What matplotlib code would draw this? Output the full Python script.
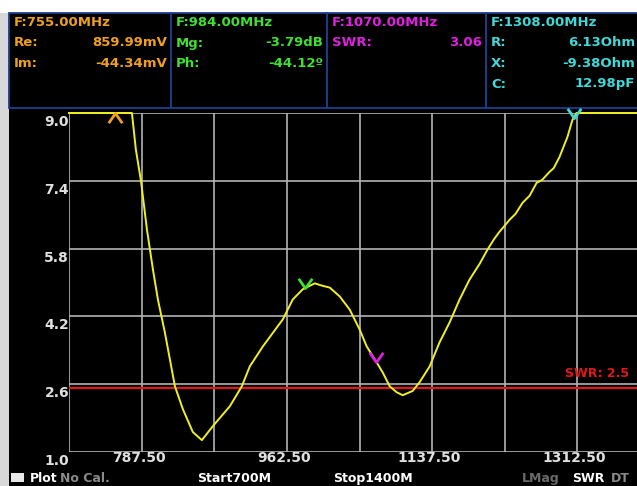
import numpy as np
import matplotlib
matplotlib.use('Agg')
import matplotlib.pyplot as plt
from matplotlib.path import Path
from matplotlib.patches import Rectangle

# sweep 700 - 1400 MHz, SWR trace (clamped at the top of the scale, 9.0)
freq = [700.0, 775.8, 780.6, 786.7, 793.9, 801.1, 807.1, 815.5, 827.6, 837.2,
        849.2, 860.1, 873.3, 893.8, 908.2, 917.8, 933.5, 957.6, 969.6, 981.6,
        996.1, 1004.0, 1014.1, 1026.2, 1038.2, 1050.2, 1058.7, 1068.3, 1077.9,
        1086.4, 1094.8, 1102.0, 1114.0, 1122.5, 1134.5, 1146.5, 1158.6, 1170.6,
        1182.6, 1195.0, 1204.3, 1212.0, 1218.7, 1224.0, 1230.8, 1238.0, 1246.4,
        1255.0, 1263.3, 1270.0, 1278.9, 1284.0, 1290.9, 1300.6, 1306.6, 1311.4,
        1400.0]
swr = [9.0, 9.0, 8.13, 7.40, 6.25, 5.31, 4.60, 3.82, 2.55, 2.01,
       1.47, 1.28, 1.61, 2.08, 2.55, 3.02, 3.49, 4.13, 4.60, 4.84,
       4.98, 4.93, 4.88, 4.67, 4.36, 3.89, 3.49, 3.19, 2.88,
       2.55, 2.41, 2.34, 2.44, 2.65, 3.02, 3.59, 4.06, 4.60,
       5.07, 5.45, 5.78, 6.02, 6.20, 6.32, 6.48, 6.62, 6.88,
       7.05, 7.35, 7.42, 7.61, 7.70, 7.96, 8.44, 8.84, 9.0,
       9.0]

swr_limit = 2.5
y_ticks = [9.0, 7.4, 5.8, 4.2, 2.6, 1.0]
x_label_freqs = [787.5, 962.5, 1137.5, 1312.5]

marker_freqs = [755.0, 984.0, 1070.0, 1308.0]
marker_colors = ['#f0a020', '#40e030', '#e020e0', '#40d8d8']

panel_titles = ['F:755.00MHz', 'F:984.00MHz', 'F:1070.00MHz', 'F:1308.00MHz']
panel_rows = [
    [('Re:', '859.99mV'), ('Im:', '-44.34mV')],
    [('Mg:', '-3.79dB'), ('Ph:', '-44.12º')],
    [('SWR:', '3.06')],
    [('R:', '6.13Ohm'), ('X:', '-9.38Ohm'), ('C:', '12.98pF')],
]

W, H = 637, 486
fig = plt.figure(figsize=(W / 100, H / 100), dpi=100, facecolor='white')

# pixel overlay for the screen furniture
ov = fig.add_axes([0, 0, 1, 1], zorder=0)
ov.set_xlim(0, W)
ov.set_ylim(H, 0)
ov.axis('off')
ov.add_patch(Rectangle((0, 13), 9, H - 13, color='#d8d8d8', lw=0))
ov.add_patch(Rectangle((9, 13), W - 9, H - 13, color='black', lw=0))

box_left = [9, 171, 327, 486]
box_right = [171, 327, 486, 700]
for i in range(4):
    ov.add_patch(Rectangle((box_left[i], 13), box_right[i] - box_left[i], 95,
                           fill=False, ec='#1c3c8c', lw=1.3))
    c = marker_colors[i]
    ov.text(box_left[i] + 5, 22, panel_titles[i], color=c, fontsize=9.5,
            fontweight='bold', va='center', ha='left')
    for j, (lab, val) in enumerate(panel_rows[i]):
        y = 43 + j * 20.5
        ov.text(box_left[i] + 5, y, lab, color=c, fontsize=9.5,
                fontweight='bold', va='center', ha='left')
        ov.text(box_right[i] - 4 if i < 3 else 635, y, val, color=c,
                fontsize=9.5, fontweight='bold', va='center', ha='right')

# bottom status line
ov.add_patch(Rectangle((11, 473), 13, 9, color='#e8e8e8', lw=0))
bottom = [(30, 'Plot', 'white'), (60, 'No Cal.', '#8a8a8a'),
          (197, 'Start700M', 'white'), (333, 'Stop1400M', 'white'),
          (522, 'LMag', '#6a6a6a'), (572, 'SWR', 'white'), (611, 'DT', '#8a8a8a')]
for x, s, c in bottom:
    ov.text(x, 478, s, color=c, fontsize=9, fontweight='bold',
            va='center', ha='left')

# main plot
ax = fig.add_axes([69 / W, (H - 452) / H, (650 - 69) / W, (452 - 113) / H], zorder=1)
ax.set_facecolor('none')
ax.set_xlim(700, 1400)
ax.set_ylim(1.0, 9.0)
ax.set_xticks(np.arange(700, 1400.1, 87.5))
ax.set_yticks(y_ticks)
ax.grid(True, color='#b4b4b4', lw=1.2)
ax.tick_params(length=0, labelleft=False, labelbottom=False)
for sp in ax.spines.values():
    sp.set_visible(False)

for v in y_ticks:
    ax.annotate(f'{v:.1f}', xy=(0, v), xycoords=('axes fraction', 'data'),
                xytext=(0, -6.5), textcoords='offset points', ha='right',
                va='center', color='#e0e0e0', fontsize=10, fontweight='bold')
for f in x_label_freqs:
    ax.annotate(f'{f:.2f}', xy=(f, 0), xycoords=('data', 'axes fraction'),
                xytext=(-2, -4.5), textcoords='offset points', ha='center',
                va='center', color='#e0e0e0', fontsize=10, fontweight='bold')

ax.axhline(swr_limit, color='#e01818', lw=1.6, zorder=2)
ax.annotate(f'SWR: {swr_limit}', xy=(565, 373), xycoords=ov.transData,
            color='#e01818', fontsize=9, fontweight='bold',
            va='center', ha='left')

ax.plot(freq, swr, color='#f0f020', lw=1.4, zorder=3, clip_on=False)

down_v = Path([(-0.7, 1), (0, 0), (0.7, 1)], [Path.MOVETO, Path.LINETO, Path.LINETO])
up_v = Path([(-0.7, -1), (0, 0), (0.7, -1)], [Path.MOVETO, Path.LINETO, Path.LINETO])
for f, c in zip(marker_freqs, marker_colors):
    s = np.interp(f, freq, swr)
    m = up_v if s >= 9.0 else down_v
    ax.plot([f], [s], marker=m, ms=14, mew=2, color=c, fillstyle='none',
            ls='none', zorder=4, clip_on=False)

fig.savefig('out.png', dpi=100, facecolor=fig.get_facecolor())
